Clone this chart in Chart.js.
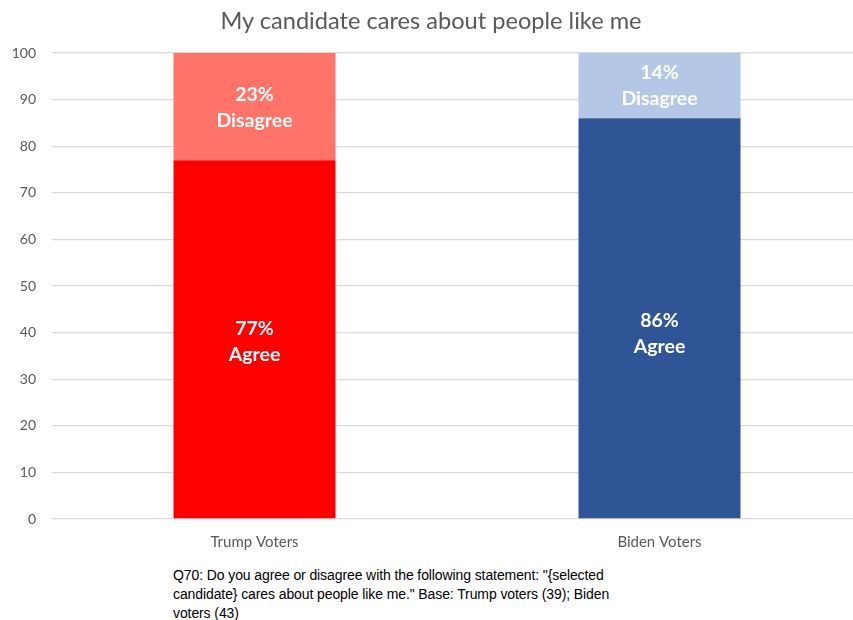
<!DOCTYPE html>
<html><head><meta charset="utf-8">
<script src="https://cdn.jsdelivr.net/npm/chart.js@4"></script>
<style>
html,body{margin:0;padding:0;background:#fff;overflow:hidden;width:853px;height:620px;}
#wrap{position:absolute;left:0;top:0;width:862px;height:560px;}
#title{position:absolute;left:0;width:862px;top:6px;text-align:center;font-family:Lato,sans-serif;font-size:23.6px;color:#595959;}
#note{position:absolute;left:173px;top:566px;font-family:"Liberation Sans",Arial,sans-serif;font-size:14px;line-height:19px;color:#000;white-space:nowrap;letter-spacing:-0.1px;}
</style></head>
<body>
<div id="wrap"><canvas id="c"></canvas></div>
<div id="title">My candidate cares about people like me</div>
<div id="note">Q70: Do you agree or disagree with the following statement: "{selected<br>candidate} cares about people like me." Base: Trump voters (39); Biden<br>voters (43)</div>
<script>
const categories = ["Trump Voters", "Biden Voters"];
const agree = [77, 86];
const disagree = [23, 14];
const yTicks = [0, 10, 20, 30, 40, 50, 60, 70, 80, 90, 100];

// label vertical nudges (px) per dataset/category, as placed in the original
const labelNudge = [[2, 15], [1, 0]];

const segLabels = {
  id: 'segLabels',
  afterDatasetsDraw(chart) {
    const ctx = chart.ctx;
    ctx.save();
    ctx.fillStyle = '#fff';
    ctx.font = 'bold 19.5px Lato, sans-serif';
    ctx.textAlign = 'center';
    ctx.textBaseline = 'middle';
    chart.data.datasets.forEach((ds, di) => {
      const meta = chart.getDatasetMeta(di);
      meta.data.forEach((bar, i) => {
        const v = ds.data[i];
        const cy = (bar.y + bar.base) / 2 + labelNudge[di][i];
        ctx.fillText(v + '%', bar.x, cy - 13);
        ctx.fillText(ds.label, bar.x, cy + 13);
      });
    });
    ctx.restore();
  }
};

new Chart(document.getElementById('c'), {
  type: 'bar',
  data: {
    labels: categories,
    datasets: [
      { label: 'Agree', data: agree, backgroundColor: ['#FF0000', '#2F5597'], barPercentage: 0.4, categoryPercentage: 1 },
      { label: 'Disagree', data: disagree, backgroundColor: ['#FF7369', '#B4C7E7'], barPercentage: 0.4, categoryPercentage: 1 }
    ]
  },
  options: {
    responsive: true,
    maintainAspectRatio: false,
    animation: false,
    layout: { padding: { top: 53, right: 0, left: 0, bottom: 0 } },
    plugins: { legend: { display: false }, tooltip: { enabled: false } },
    scales: {
      x: {
        stacked: true,
        grid: { display: false, drawTicks: false },
        border: { display: false },
        ticks: { color: '#595959', font: { family: 'Lato', size: 15 }, padding: 14 },
        afterFit(s) { s.height = 41; }
      },
      y: {
        stacked: true,
        min: 0, max: 100,
        afterBuildTicks(s) { s.ticks = yTicks.map(v => ({ value: v })); },
        grid: { color: '#D9D9D9', lineWidth: 1.3, drawTicks: false },
        border: { display: false },
        ticks: { color: '#595959', font: { family: 'Lato', size: 14 }, padding: 16 },
        afterFit(s) { s.width = 52; }
      }
    }
  },
  plugins: [segLabels]
});
</script>
</body></html>
